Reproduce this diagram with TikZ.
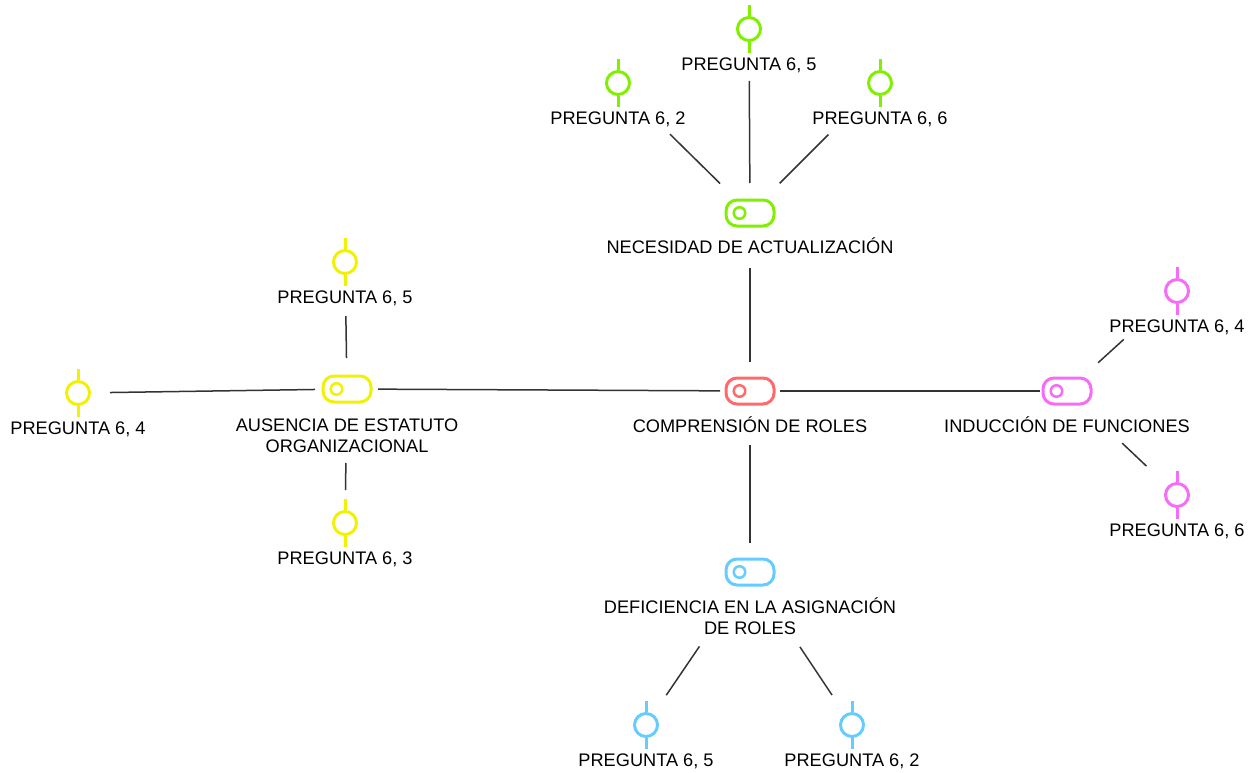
\documentclass[tikz,border=0pt]{standalone}
\usepackage{fontspec}
\setmainfont{Liberation Sans}
\usepackage{xcolor}
\definecolor{rolered}{HTML}{FF6B6B}
\definecolor{actgreen}{HTML}{80F000}
\definecolor{estyellow}{HTML}{F2F200}
\definecolor{funpink}{HTML}{F76CF7}
\definecolor{asigblue}{HTML}{66CCFF}
\definecolor{linkgray}{HTML}{333333}
\usepackage{tikz}
\usetikzlibrary{positioning}

\begin{document}
\begin{tikzpicture}[x=0.2mm, y=-0.2mm,
  topic/.style={draw=#1, rounded corners=2.2mm, line width=0.6mm,
        minimum width=9.6mm, minimum height=5.2mm, inner sep=0pt},
  qpin/.style={circle, draw=#1, line width=0.6mm,
        minimum size=4.6mm, inner sep=0pt},
  lbl/.style={font=\fontsize{10.35}{12}\selectfont, align=center, inner sep=0pt},
  link/.style={draw=linkgray, line width=0.3mm}]

  \useasboundingbox (0,0) rectangle (1255,772);

  % main topics
  \node[topic=rolered] (comp) at (750,391) {};
  \node[lbl, below=2.1mm of comp] (complbl) {COMPRENSIÓN DE ROLES};

  \node[topic=actgreen] (nec) at (750,213) {};
  \node[lbl, below=2.0mm of nec] (neclbl) {NECESIDAD DE ACTUALIZACIÓN};

  \node[topic=estyellow] (aus) at (347,389) {};
  \node[lbl, below=2.9mm of aus] (auslbl) {AUSENCIA DE ESTATUTO\\ORGANIZACIONAL};

  \node[topic=funpink] (ind) at (1067,391) {};
  \node[lbl, below=2.1mm of ind] (indlbl) {INDUCCIÓN DE FUNCIONES};

  \node[topic=asigblue] (def) at (750,572) {};
  \node[lbl, below=2.1mm of def] (deflbl) {DEFICIENCIA EN LA ASIGNACIÓN\\DE ROLES};

  \foreach \n/\c in {comp/rolered, nec/actgreen, aus/estyellow, ind/funpink, def/asigblue}
    \draw[\c, line width=0.5mm] ([xshift=3mm]\n.west) circle (1.15mm);

  % questions
  \node[qpin=actgreen] (g5) at (749,29) {};
  \node[lbl, below=3mm of g5] (g5lbl) {PREGUNTA 6, 5};
  \node[qpin=actgreen] (g2) at (618,83) {};
  \node[lbl, below=3mm of g2] (g2lbl) {PREGUNTA 6, 2};
  \node[qpin=actgreen] (g6) at (880,83) {};
  \node[lbl, below=3mm of g6] (g6lbl) {PREGUNTA 6, 6};

  \node[qpin=estyellow] (y5) at (345,262) {};
  \node[lbl, below=3mm of y5] (y5lbl) {PREGUNTA 6, 5};
  \node[qpin=estyellow] (y4) at (78,393) {};
  \node[lbl, below=3mm of y4] (y4lbl) {PREGUNTA 6, 4};
  \node[qpin=estyellow] (y3) at (345,523) {};
  \node[lbl, below=3mm of y3] (y3lbl) {PREGUNTA 6, 3};

  \node[qpin=funpink] (p4) at (1177,291) {};
  \node[lbl, below=3mm of p4] (p4lbl) {PREGUNTA 6, 4};
  \node[qpin=funpink] (p6) at (1177,495) {};
  \node[lbl, below=3mm of p6] (p6lbl) {PREGUNTA 6, 6};

  \node[qpin=asigblue] (b5) at (646,725) {};
  \node[lbl, below=3mm of b5] (b5lbl) {PREGUNTA 6, 5};
  \node[qpin=asigblue] (b2) at (852,725) {};
  \node[lbl, below=3mm of b2] (b2lbl) {PREGUNTA 6, 2};

  \foreach \p/\c in {g5/actgreen, g2/actgreen, g6/actgreen,
                     y5/estyellow, y4/estyellow, y3/estyellow,
                     p4/funpink, p6/funpink, b5/asigblue, b2/asigblue} {
    \draw[\c, line width=0.6mm] (\p.north) -- ++(0,-11);
    \draw[\c, line width=0.6mm] (\p.south) -- ++(0,11);
  }

  % connectors
  \draw[link, shorten <=5.8mm, shorten >=11mm] (comp.center) -- (nec.center);
  \draw[link, shorten <=6mm, shorten >=6.2mm] (comp.center) -- (aus.center);
  \draw[link, shorten <=6mm, shorten >=5.4mm] (comp.center) -- (ind.center);
  \draw[link, shorten <=10.8mm, shorten >=5.8mm] (comp.center) -- (def.center);

  \draw[link, shorten <=6mm, shorten >=10.4mm] (nec.center) -- (g5.center);
  \draw[link, shorten <=8.4mm, shorten >=14.6mm] (nec.center) -- (g2.center);
  \draw[link, shorten <=8.4mm, shorten >=14.6mm] (nec.center) -- (g6.center);

  \draw[link, shorten <=6.2mm, shorten >=10.8mm] (aus.center) -- (y5.center);
  \draw[link, shorten <=6.4mm, shorten >=6.4mm] (aus.center) -- (y4.center);
  \draw[link, shorten <=14.8mm, shorten >=6.6mm] (aus.center) -- (y3.center);

  \draw[link, shorten <=8.4mm, shorten >=14.4mm] (ind.center) -- (p4.center);
  \draw[link, shorten <=15.2mm, shorten >=8.4mm] (ind.center) -- (p6.center);

  \draw[link, shorten <=18mm, shorten >=7.2mm] (def.center) -- (b5.center);
  \draw[link, shorten <=18mm, shorten >=7.2mm] (def.center) -- (b2.center);

\end{tikzpicture}
\end{document}
